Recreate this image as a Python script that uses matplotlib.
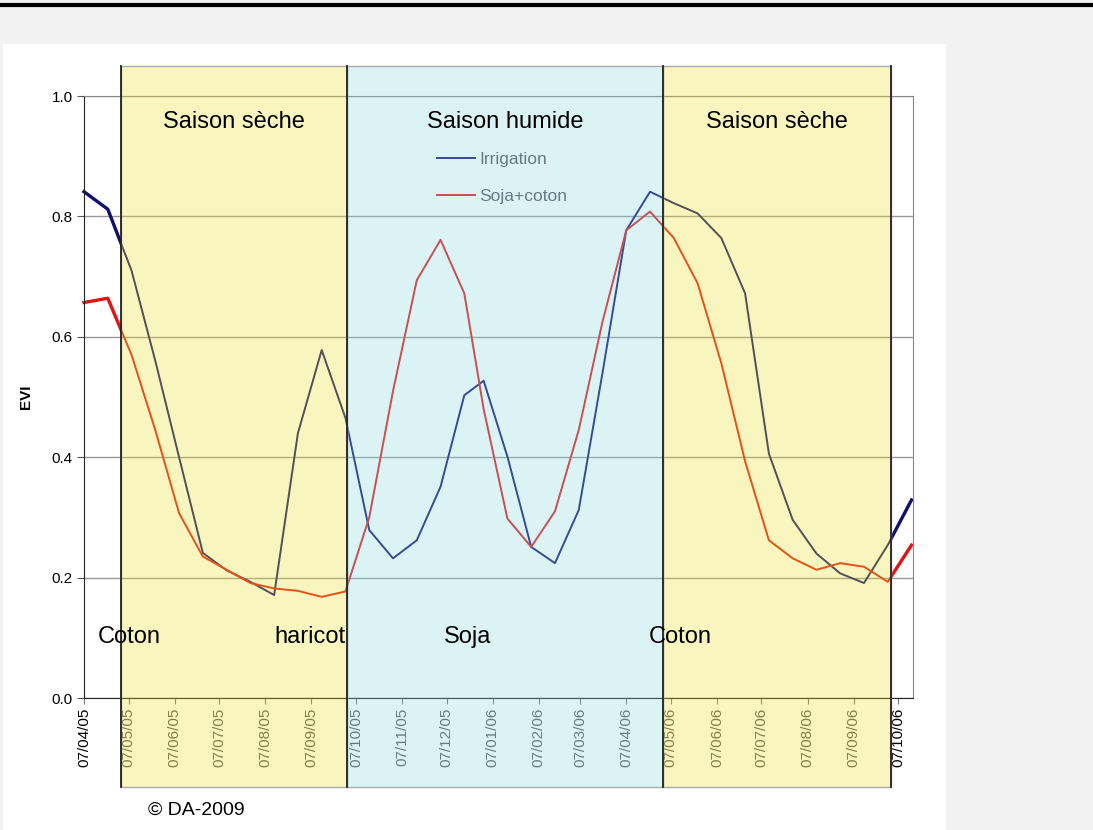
import pandas as pd
import matplotlib
matplotlib.use("Agg")
import matplotlib.pyplot as plt
import matplotlib.dates as mdates
from matplotlib.patches import Rectangle
from matplotlib.lines import Line2D

plt.rcParams['font.family'] = ['Liberation Sans', 'DejaVu Sans']

# MODIS 16-day composite dates
dates = ["2005-04-07", "2005-04-23", "2005-05-09", "2005-05-25", "2005-06-10", "2005-06-26",
         "2005-07-12", "2005-07-28", "2005-08-13", "2005-08-29", "2005-09-14", "2005-09-30",
         "2005-10-16", "2005-11-01", "2005-11-17", "2005-12-03", "2005-12-19",
         "2006-01-01", "2006-01-17", "2006-02-02", "2006-02-18", "2006-03-06", "2006-03-22",
         "2006-04-07", "2006-04-23", "2006-05-09", "2006-05-25", "2006-06-10", "2006-06-26",
         "2006-07-12", "2006-07-28", "2006-08-13", "2006-08-29", "2006-09-14", "2006-09-30",
         "2006-10-16"]
irrigation = [0.841, 0.812, 0.71, 0.56, 0.40, 0.241, 0.212, 0.193, 0.171, 0.44, 0.578, 0.465,
              0.279, 0.232, 0.262, 0.351, 0.503, 0.527, 0.401, 0.251, 0.224, 0.312, 0.54,
              0.777, 0.841, 0.822, 0.805, 0.764, 0.672, 0.406, 0.296, 0.240, 0.207, 0.191,
              0.254, 0.329]
soja_coton = [0.657, 0.664, 0.57, 0.445, 0.307, 0.235, 0.213, 0.191, 0.182, 0.178, 0.168, 0.177,
              0.30, 0.51, 0.694, 0.761, 0.672, 0.48, 0.298, 0.251, 0.31, 0.445, 0.625,
              0.777, 0.808, 0.764, 0.689, 0.556, 0.393, 0.262, 0.232, 0.213, 0.224, 0.218,
              0.193, 0.254]

season_edges = ["2005-05-02", "2005-10-01", "2006-05-02", "2006-10-02"]
season_names = ["Saison sèche", "Saison humide", "Saison sèche"]
season_colors = [(238/255, 225/255, 40/255, 0.3), (139/255, 218/255, 228/255, 0.3),
                 (238/255, 225/255, 40/255, 0.3)]
crop_names = ["Coton", "haricot", "Soja", "Coton"]
crop_dates = ["2005-04-16", "2005-08-13", "2005-12-05", "2006-04-22"]

x = pd.to_datetime(dates)
edges = pd.to_datetime(season_edges)
x_start = pd.Timestamp("2005-04-07")
x_end = pd.Timestamp("2006-10-17")

fig = plt.figure(figsize=(10.93, 8.3), dpi=100)
fig.patch.set_facecolor('#f2f2f2')
fig.add_artist(Rectangle((3/1093, 0), 943/1093, 786/830, transform=fig.transFigure,
                         facecolor='white', edgecolor='none', zorder=-1))
fig.add_artist(Line2D([0, 1], [0.994, 0.994], transform=fig.transFigure, color='black', lw=3))

ax = fig.add_axes([84/1093, 132/830, 829/1093, 602/830])
ax.set_facecolor('white')

# thin lines everywhere (seen through the overlay), thick ones only outside the seasons
ax.plot(x, irrigation, color='#10106e', lw=1.4, label='Irrigation', zorder=2)
ax.plot(x, soja_coton, color='#e01515', lw=1.4, label='Soja+coton', zorder=2)
xt = ax.get_xaxis_transform()
outside = [(mdates.date2num(x_start) - 5, mdates.date2num(edges[0])),
           (mdates.date2num(edges[-1]), mdates.date2num(x_end) + 5)]
for a, b in outside:
    for vals, col in [(irrigation, '#10106e'), (soja_coton, '#e01515')]:
        ln, = ax.plot(x, vals, color=col, lw=2.4, zorder=2.1)
        ln.set_clip_path(Rectangle((a, -0.1), b - a, 1.2, transform=xt))

ax.set_ylim(0, 1.0)
ax.set_yticks([0, 0.2, 0.4, 0.6, 0.8, 1.0])
ax.set_yticklabels(["0.0", "0.2", "0.4", "0.6", "0.8", "1.0"])
ax.set_xlim(x_start, x_end)
ax.xaxis.set_major_locator(mdates.MonthLocator(bymonthday=7))
ax.xaxis.set_major_formatter(mdates.DateFormatter('%d/%m/%y'))
ax.tick_params(axis='x', rotation=90, labelsize=11, length=4, color='#777', pad=3)
ax.tick_params(axis='y', labelsize=11, length=5, color='#555', pad=3)
ax.grid(axis='y', color='#999', lw=1)
ax.set_ylabel("EVI", fontsize=11, fontweight='bold')
ax.yaxis.set_label_coords(-0.0615, 0.5)
for s in ['top', 'right']:
    ax.spines[s].set_color('#888')
for s in ['left', 'bottom']:
    ax.spines[s].set_color('#222')

# labels under the overlay look faded in the original
fig.canvas.draw()
ticks = ax.get_xticks()
for t, lab in zip(ticks, ax.get_xticklabels()):
    if mdates.date2num(edges[0]) < t < mdates.date2num(edges[-1]):
        lab.set_color('#555')

leg = ax.legend(loc='center', bbox_to_anchor=(0.504, 0.864), fontsize=12.5, frameon=True,
                labelspacing=1.3, handlelength=2.2, handletextpad=0.25, borderpad=0.6)
leg.get_frame().set_facecolor('white')
leg.get_frame().set_edgecolor('none')
leg.set_zorder(2.2)
for t in leg.get_texts():
    t.set_color('#555')

# season bands drawn over everything as a translucent overlay
for i in range(3):
    x0 = mdates.date2num(edges[i])
    w = mdates.date2num(edges[i + 1]) - x0
    ax.add_patch(Rectangle((x0, -0.148), w, 1.198, transform=xt,
                           facecolor=season_colors[i], edgecolor='#aaa', lw=1,
                           clip_on=False, zorder=2.6))
    mid = edges[i] + (edges[i + 1] - edges[i]) / 2
    ax.text(mid, 0.957, season_names[i], transform=xt,
            ha='center', va='center', fontsize=17, zorder=4)
for e in edges:
    ax.plot([e, e], [-0.148, 1.05], transform=xt, color='#222', lw=1.3,
            clip_on=False, zorder=2.7)

for name, d in zip(crop_names, crop_dates):
    ax.text(pd.Timestamp(d), 0.101, name, transform=xt,
            ha='left', va='center', fontsize=17, zorder=4)

fig.text(148/1093, 20/830, "© DA-2009", fontsize=14, va='center', ha='left')

fig.savefig("out.png", dpi=100, facecolor=fig.get_facecolor())
